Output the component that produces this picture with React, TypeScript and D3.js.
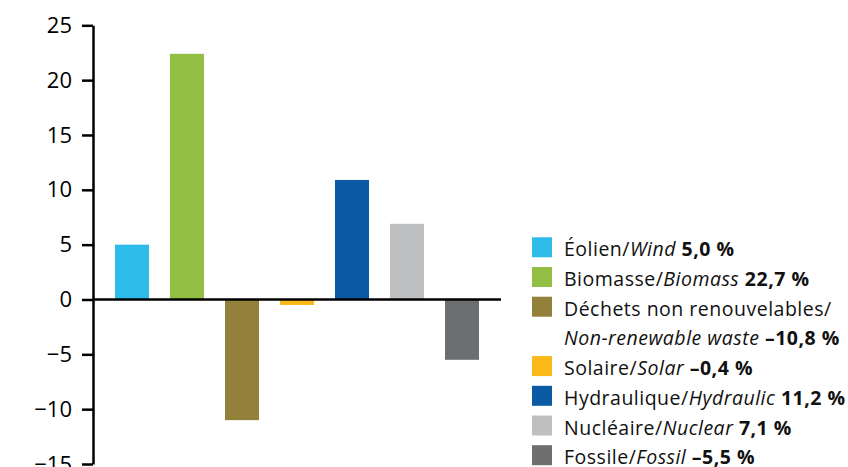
import { useEffect, useRef } from "react";
import * as d3 from "d3";

const sourcesFr = ["Éolien", "Biomasse", "Déchets non renouvelables", "Solaire", "Hydraulique", "Nucléaire", "Fossile"];
const sourcesEn = ["Wind", "Biomass", "Non-renewable waste", "Solar", "Hydraulic", "Nuclear", "Fossil"];
// bar heights as drawn in the picture
const barValues = [5.0, 22.4, -11.0, -0.5, 10.9, 6.9, -5.5];
// shares as printed in the legend
const shareLabels = ["5,0 %", "22,7 %", "–10,8 %", "–0,4 %", "11,2 %", "7,1 %", "–5,5 %"];
const colors = ["#2dbbe9", "#92be44", "#93803a", "#fbb919", "#0b5ba4", "#bebfc1", "#6d6e70"];
const yTicks = [-15, -10, -5, 0, 5, 10, 15, 20, 25];

const W = 848;
const H = 467;
const FONT = "'Open Sans', 'Noto Sans', sans-serif";

const App = () => {
  const ref = useRef<SVGSVGElement>(null);

  useEffect(() => {
    const svg = d3.select(ref.current);
    svg.selectAll("*").remove();

    const y = d3.scaleLinear().domain([-15, 25]).range([464, 25.3]);
    const x = d3
      .scaleBand()
      .domain(sourcesEn)
      .range([93, 501])
      .paddingInner(0.382)
      .paddingOuter(0.4);

    // bars
    svg
      .append("g")
      .selectAll("rect")
      .data(barValues)
      .enter()
      .append("rect")
      .attr("x", (d, i) => x(sourcesEn[i]))
      .attr("width", x.bandwidth())
      .attr("y", (d) => Math.min(y(d), y(0)))
      .attr("height", (d) => Math.abs(y(d) - y(0)))
      .attr("fill", (d, i) => colors[i]);

    // zero line
    svg
      .append("line")
      .attr("x1", 93)
      .attr("x2", 501)
      .attr("y1", y(0))
      .attr("y2", y(0))
      .attr("stroke", "#000")
      .attr("stroke-width", 2.5);

    // y axis
    const axis = svg
      .append("g")
      .attr("transform", "translate(93,0)")
      .call(
        d3
          .axisLeft(y)
          .tickValues(yTicks)
          .tickSize(11)
          .tickSizeOuter(0)
          .tickPadding(10)
      );
    axis.select(".domain").attr("stroke", "#000").attr("stroke-width", 2.5);
    axis.selectAll(".tick line").attr("stroke", "#000").attr("stroke-width", 2.5);
    axis
      .selectAll(".tick text")
      .attr("fill", "#000")
      .style("font-family", FONT)
      .style("font-size", "22px");

    // legend
    const legend = svg
      .append("g")
      .style("font-family", FONT)
      .style("font-size", "19.5px")
      .style("letter-spacing", "0.5px");
    let line = 0;
    sourcesFr.forEach((fr, i) => {
      const top = 237.3 + 29.7 * line;
      legend
        .append("rect")
        .attr("x", 532)
        .attr("y", top)
        .attr("width", 20)
        .attr("height", 20)
        .attr("fill", colors[i]);

      const wrap = fr.length > 20;
      const t = legend.append("text").attr("x", 564).attr("y", top + 19).attr("fill", "#111");
      t.append("tspan").text(fr + "/");
      if (wrap) {
        line += 1;
        t.append("tspan").attr("x", 564).attr("dy", 29.7).style("font-style", "italic").text(sourcesEn[i]);
      } else {
        t.append("tspan").style("font-style", "italic").text(sourcesEn[i]);
      }
      t.append("tspan").style("font-weight", "bold").text(" " + shareLabels[i]);
      line += 1;
    });
  }, []);

  return (
    <svg
      ref={ref}
      width={W}
      height={H}
      style={{ position: "absolute", left: 0, top: 0, background: "#fff" }}
    />
  );
};

export default App;
